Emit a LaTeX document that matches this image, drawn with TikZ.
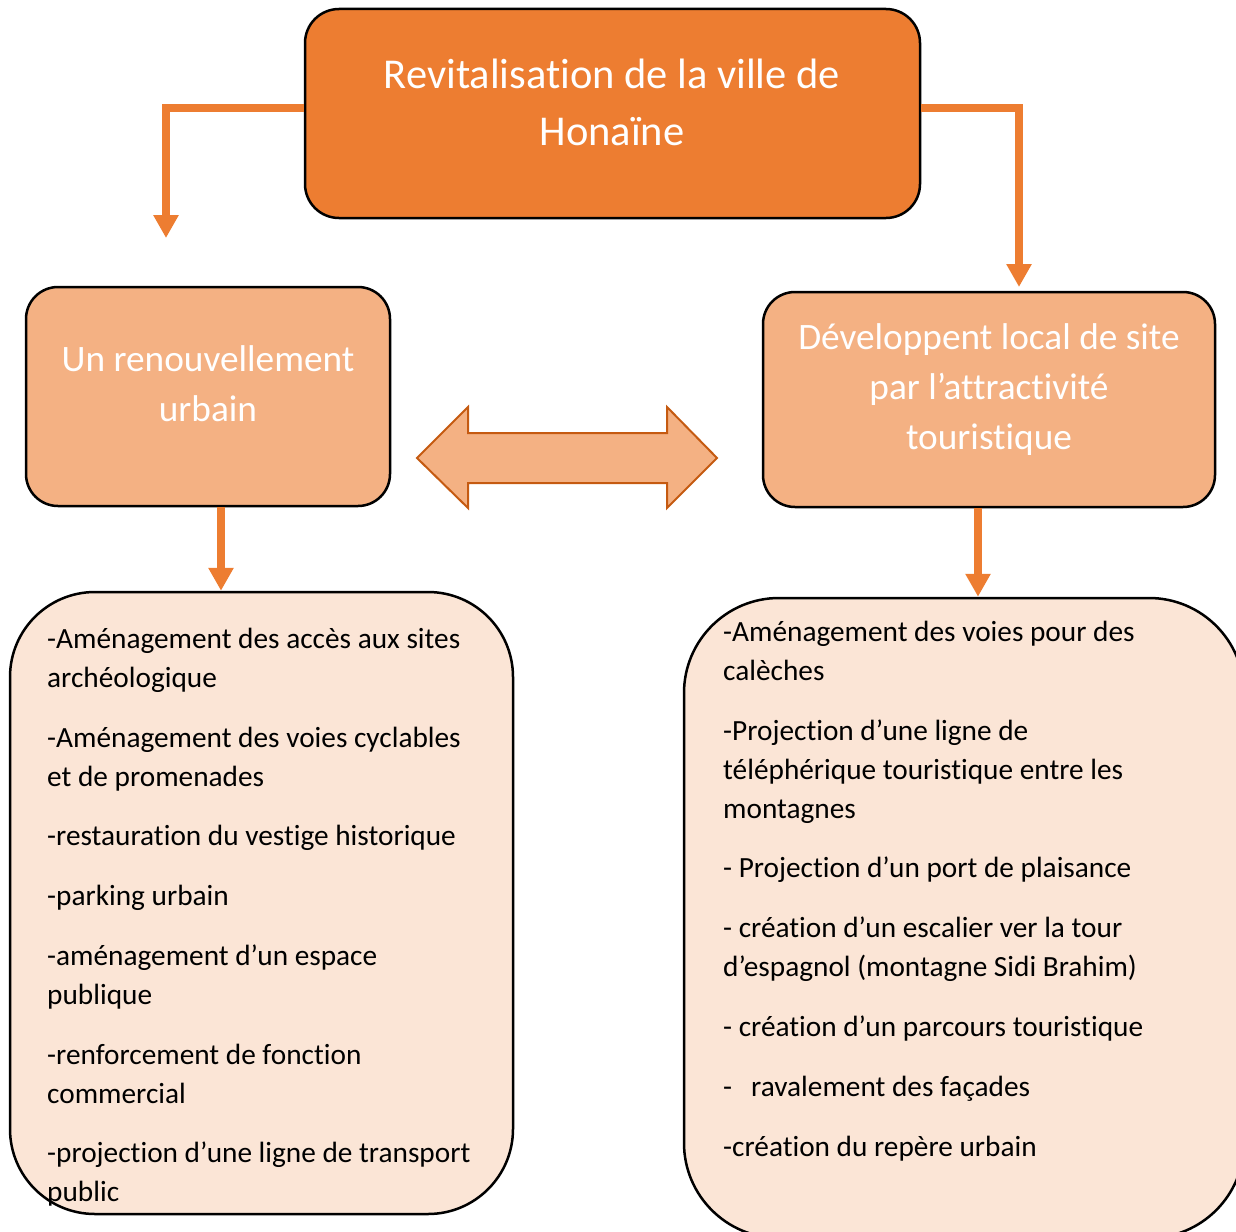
\documentclass[tikz,border=0pt]{standalone}
\usepackage{fontspec}
\setmainfont{Carlito}[Ligatures=NoCommon]
\usetikzlibrary{arrows.meta}
\definecolor{orA}{HTML}{ED7D31}
\definecolor{orB}{HTML}{F4B183}
\definecolor{orC}{HTML}{FBE5D6}
\definecolor{orD}{HTML}{C55A11}
\begin{document}
\begin{tikzpicture}[x=1pt,y=-1pt,
  box/.style={draw=black, line width=2.5pt, rectangle, inner sep=0pt},
  topbox/.style={box, fill=orA, rounded corners=34pt},
  midbox/.style={box, fill=orB, rounded corners=32pt},
  listbox/.style={box, fill=orC, rounded corners=85pt},
  titletxt/.style={text=white, align=center, inner sep=0pt, font=\fontsize{42.5}{57}\selectfont},
  midtxt/.style={text=white, align=center, inner sep=0pt, font=\fontsize{37.3}{50}\selectfont},
  listtxt/.style={anchor=base west, align=left, inner sep=0pt, font=\fontsize{29.3}{39}\selectfont},
  conn/.style={draw=orA, line width=8pt, -{Triangle[width=24pt,length=23pt]}},
  dbl/.style={draw=orD, fill=orB, line width=2pt, line join=miter}
]
\useasboundingbox (0,0) rectangle (1236,1231);
\clip (0,0) rectangle (1236,1231);

% boxes
\node[topbox, minimum width=615pt, minimum height=209pt] (top) at (612.5,113.5) {};
\node[titletxt] (toptext) at (612,102) {Revitalisation de la ville de\\Honaïne};

\node[midbox, minimum width=364pt, minimum height=219pt] (lm) at (208,396.5) {};
\node[midtxt] (lmtext) at (208,384) {Un renouvellement\\urbain};

\node[midbox, minimum width=452pt, minimum height=215pt] (rm) at (989,399.5) {};
\node[midtxt] (rmtext) at (989,389.5) {Développent local de site\\par l’attractivité\\touristique};

\node[listbox, minimum width=503pt, minimum height=622pt] (lb) at (261.5,903) {};
\node[listbox, minimum width=560pt, minimum height=640pt, rounded corners=95pt] (rb) at (964,918) {};

% left list (anchor = baseline of last line)
\node[listtxt] (l1) at (47,687) {-Aménagement des accès aux sites\\archéologique};
\node[listtxt] (l2) at (47,786) {-Aménagement des voies cyclables\\et de promenades};
\node[listtxt] (l3) at (47,845) {-restauration du vestige historique};
\node[listtxt] (l4) at (47,905) {-parking urbain};
\node[listtxt] (l5) at (47,1004) {-aménagement d’un espace\\publique};
\node[listtxt] (l6) at (47,1103) {-renforcement de fonction\\commercial};
\node[listtxt] (l7) at (47,1201) {-projection d’une ligne de transport\\public};

% right list
\node[listtxt] (r1) at (723,680) {-Aménagement des voies pour des\\calèches};
\node[listtxt] (r2) at (723,818) {-Projection d’une ligne de\\téléphérique touristique entre les\\montagnes};
\node[listtxt] (r3) at (723,877) {- Projection d’un port de plaisance};
\node[listtxt] (r4) at (723,976) {- création d’un escalier ver la tour\\d’espagnol (montagne Sidi Brahim)};
\node[listtxt] (r5) at (723,1036) {- création d’un parcours touristique};
\node[listtxt] (r6) at (723,1096) {-\hspace{19pt}ravalement des façades};
\node[listtxt] (r7) at (723,1156) {-création du repère urbain};

% connectors
\coordinate (tl) at (166,238);
\coordinate (tr) at (1019,287);
\draw[conn] (top.west |- 0,108) -| (tl);
\draw[conn] (top.east |- 0,108) -| (tr);
\draw[conn] (lm.south -| 221,0) -- (lb.north -| 221,0);
\draw[conn] (rm.south -| 978,0) -- (rb.north -| 978,0);

% double arrow
\coordinate (dl) at (417,458);
\coordinate (dr) at (717,458);
\draw[dbl] (dl) -- (468,407) -- (468,433) -- (667,433) -- (667,407) -- (dr)
  -- (667,508) -- (667,483) -- (468,483) -- (468,508) -- cycle;
\end{tikzpicture}
\end{document}
